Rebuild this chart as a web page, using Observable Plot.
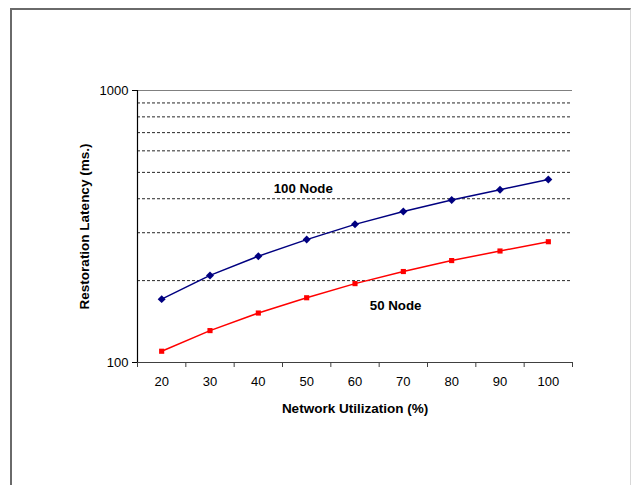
<!DOCTYPE html>
<html>
<head>
<meta charset="utf-8">
<script src="https://cdn.jsdelivr.net/npm/d3@7"></script>
<script src="https://cdn.jsdelivr.net/npm/@observablehq/plot@0.6"></script>
<style>
  html, body { margin: 0; padding: 0; background: #fff; }
  #wrap { position: relative; width: 631px; height: 485px; overflow: hidden; }
  #frame { position: absolute; left: 10px; top: 8px; width: 618px; height: 500px;
           border-left: 2px solid #6a6a6a; border-top: 2px solid #6a6a6a; border-right: 1px solid #d8d8d8; }
  svg { position: absolute; left: 0; top: 0; }
  svg text { font-family: "Liberation Sans", Arial, sans-serif; }
</style>
</head>
<body>
<div id="wrap"><div id="frame"></div></div>
<script>
const categories = [20, 30, 40, 50, 60, 70, 80, 90, 100];
const node100 = [171, 209, 246, 283, 322, 359, 396, 432, 471];
const node50 = [110, 131, 152, 173, 195, 216, 237, 257, 278];
const gridValues = [200, 300, 400, 500, 600, 700, 800, 900];
const yTicks = [100, 1000];

const step = categories[1] - categories[0];
const boundaries = [...categories.map(c => c - step / 2), categories[categories.length - 1] + step / 2];

const data100 = categories.map((c, i) => ({x: c, y: node100[i]}));
const data50 = categories.map((c, i) => ({x: c, y: node50[i]}));

const chart = Plot.plot({
  width: 631,
  height: 485,
  marginLeft: 137,
  marginRight: 59,
  marginTop: 90,
  marginBottom: 123,
  style: {fontFamily: "'Liberation Sans', Arial, sans-serif", fontSize: "13px", color: "#000", background: "transparent"},
  x: {domain: [boundaries[0], boundaries[boundaries.length - 1]]},
  y: {type: "log", domain: [100, 1000]},
  marks: [
    Plot.ruleY(gridValues, {stroke: "#000", strokeWidth: 1, strokeDasharray: "3,2", strokeOpacity: 0.85}),
    Plot.ruleY([1000], {stroke: "#808080", strokeWidth: 1.2}),
    Plot.ruleY([100], {stroke: "#404040", strokeWidth: 1.2}),
    Plot.ruleX([boundaries[0]], {stroke: "#000", strokeWidth: 1.2}),
    Plot.axisY({ticks: yTicks, tickFormat: d => String(d), tickSize: 5, tickPadding: 4, fontSize: 13, label: null}),
    Plot.axisX({ticks: boundaries, tickSize: 5, tickFormat: () => "", label: null, stroke: "#404040"}),
    Plot.axisX({ticks: categories, tickSize: 0, tickPadding: 14, tickFormat: d => String(d), fontSize: 13, label: null}),
    Plot.line(data100, {x: "x", y: "y", stroke: "#000080", strokeWidth: 1.5}),
    Plot.dot(data100, {x: "x", y: "y", symbol: "diamond2", r: 3.6, fill: "#000080", stroke: "none"}),
    Plot.line(data50, {x: "x", y: "y", stroke: "#ff0000", strokeWidth: 1.5}),
    Plot.dot(data50, {x: "x", y: "y", symbol: "square", r: 2.9, fill: "#ff0000", stroke: "none"}),
    Plot.text(["100 Node"], {x: 49.3, y: 436, text: d => d, fontWeight: "bold", fontSize: 13.3, fill: "#000"}),
    Plot.text(["50 Node"], {x: 68.4, y: 162, text: d => d, fontWeight: "bold", fontSize: 13.3, fill: "#000"}),
    Plot.text(["Network Utilization (%)"], {frameAnchor: "bottom", lineAnchor: "middle", textAnchor: "middle", dy: 46, text: d => d, fontWeight: "bold", fontSize: 13.5, fill: "#000"}),
    Plot.text(["Restoration Latency (ms.)"], {frameAnchor: "left", lineAnchor: "middle", textAnchor: "middle", dx: -53, rotate: -90, text: d => d, fontWeight: "bold", fontSize: 13.5, fill: "#000"})
  ]
});
document.getElementById("wrap").appendChild(chart);
</script>
</body>
</html>
